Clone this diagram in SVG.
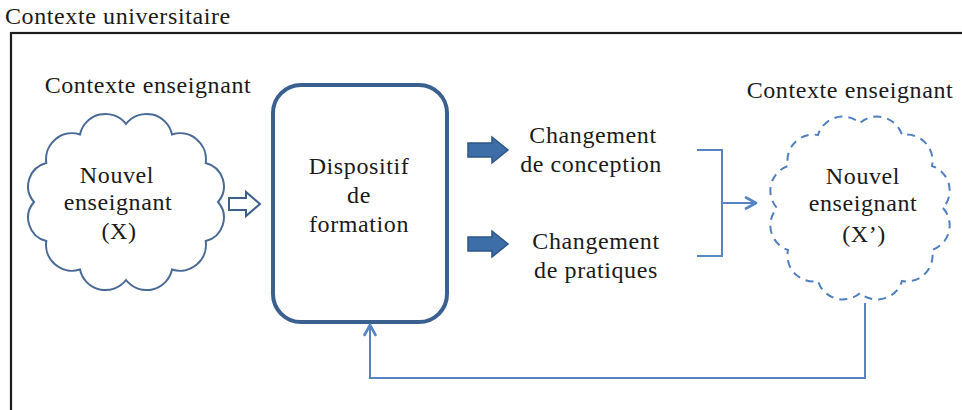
<svg xmlns="http://www.w3.org/2000/svg" width="962" height="410" viewBox="0 0 962 410">
<style>
  text { font-family: "Liberation Serif", "Times New Roman", serif; fill: #1a1a1a; font-size: 24px; letter-spacing: 0.6px; }
  .mid { text-anchor: middle; }
  .conn { fill: none; stroke: #5585c4; stroke-width: 2; }
  .blk { fill: #3e6ea8; stroke: #2d5585; stroke-width: 1.5; }
</style>
<defs>
  <marker id="open" markerUnits="userSpaceOnUse" viewBox="0 0 14 14" markerWidth="14" markerHeight="14" refX="12" refY="7" orient="auto">
    <path d="M2,1.5 L12,7 L2,12.5" fill="none" stroke="#5585c4" stroke-width="2.6" stroke-linejoin="round" stroke-linecap="round"/>
  </marker>
</defs>
<rect width="962" height="410" fill="#ffffff"/>

<g id="contexte-universitaire">
  <text x="5" y="24" font-size="25.5px">Contexte universitaire</text>
  <rect x="11" y="33" width="1000" height="500" fill="none" stroke="#1c1c1c" stroke-width="2.2"/>
</g>

<g id="nouvel-enseignant-x">
  <text class="mid" x="148" y="93">Contexte enseignant</text>
  <path d="M218,202 A24,24 0 0 1 205.7,241 A26,26 0 0 1 172,269.5 A26,26 0 0 1 126,280 A26,26 0 0 1 80,269.5 A26,26 0 0 1 46.3,241 A24,24 0 0 1 34,202 A24,24 0 0 1 46.3,163 A26,26 0 0 1 80,134.5 A26,26 0 0 1 126,124 A26,26 0 0 1 172,134.5 A26,26 0 0 1 205.7,163 A24,24 0 0 1 218,202 Z" fill="#ffffff" stroke="#4a6a96" stroke-width="2"/>
  <text class="mid" x="117" y="183">Nouvel</text>
  <text class="mid" x="118" y="210">enseignant</text>
  <text class="mid" x="119" y="239">(X)</text>
</g>

<g id="dispositif">
  <rect x="273" y="85" width="174" height="237" rx="28" ry="28" fill="#ffffff" stroke="#3a6090" stroke-width="4"/>
  <text class="mid" x="359" y="174">Dispositif</text>
  <text class="mid" x="359" y="203">de</text>
  <text class="mid" x="359" y="232">formation</text>
</g>

<g id="changement-conception">
  <text class="mid" x="593" y="143">Changement</text>
  <text class="mid" x="591" y="172">de conception</text>
</g>

<g id="changement-pratiques">
  <text class="mid" x="596" y="249">Changement</text>
  <text class="mid" x="596" y="278">de pratiques</text>
</g>

<g id="nouvel-enseignant-x-prime">
  <text class="mid" x="850" y="98">Contexte enseignant</text>
  <path d="M943,208 A26,26 0 0 1 932,250 A26,26 0 0 1 902,281 A26,26 0 0 1 860,293 A26,26 0 0 1 818,281 A26,26 0 0 1 788,250 A26,26 0 0 1 777,208 A26,26 0 0 1 788,166 A26,26 0 0 1 818,135 A26,26 0 0 1 860,123 A26,26 0 0 1 902,135 A26,26 0 0 1 932,166 A26,26 0 0 1 943,208 Z" fill="#ffffff" stroke="#4f7fbf" stroke-width="2" stroke-dasharray="8 6"/>
  <text class="mid" x="863" y="184">Nouvel</text>
  <text class="mid" x="863" y="211">enseignant</text>
  <text class="mid" x="864" y="242">(X’)</text>
</g>

<g id="connectors">
  <polygon points="229,198 246,198 246,192 260,204 246,216 246,210 229,210" fill="#ffffff" stroke="#3d5f8a" stroke-width="2" stroke-linejoin="miter"/>
  <polygon class="blk" points="468,143 492,143 492,137 508,150 492,163 492,157 468,157"/>
  <polygon class="blk" points="468,237 492,237 492,231 508,244 492,257 492,251 468,251"/>
  <polyline class="conn" points="697,150 722,150 722,256 697,256"/>
  <line class="conn" x1="722" y1="203" x2="756" y2="203" marker-end="url(#open)"/>
  <polyline class="conn" points="865,303 865,378 370,378 370,325" marker-end="url(#open)"/>
</g>
</svg>
